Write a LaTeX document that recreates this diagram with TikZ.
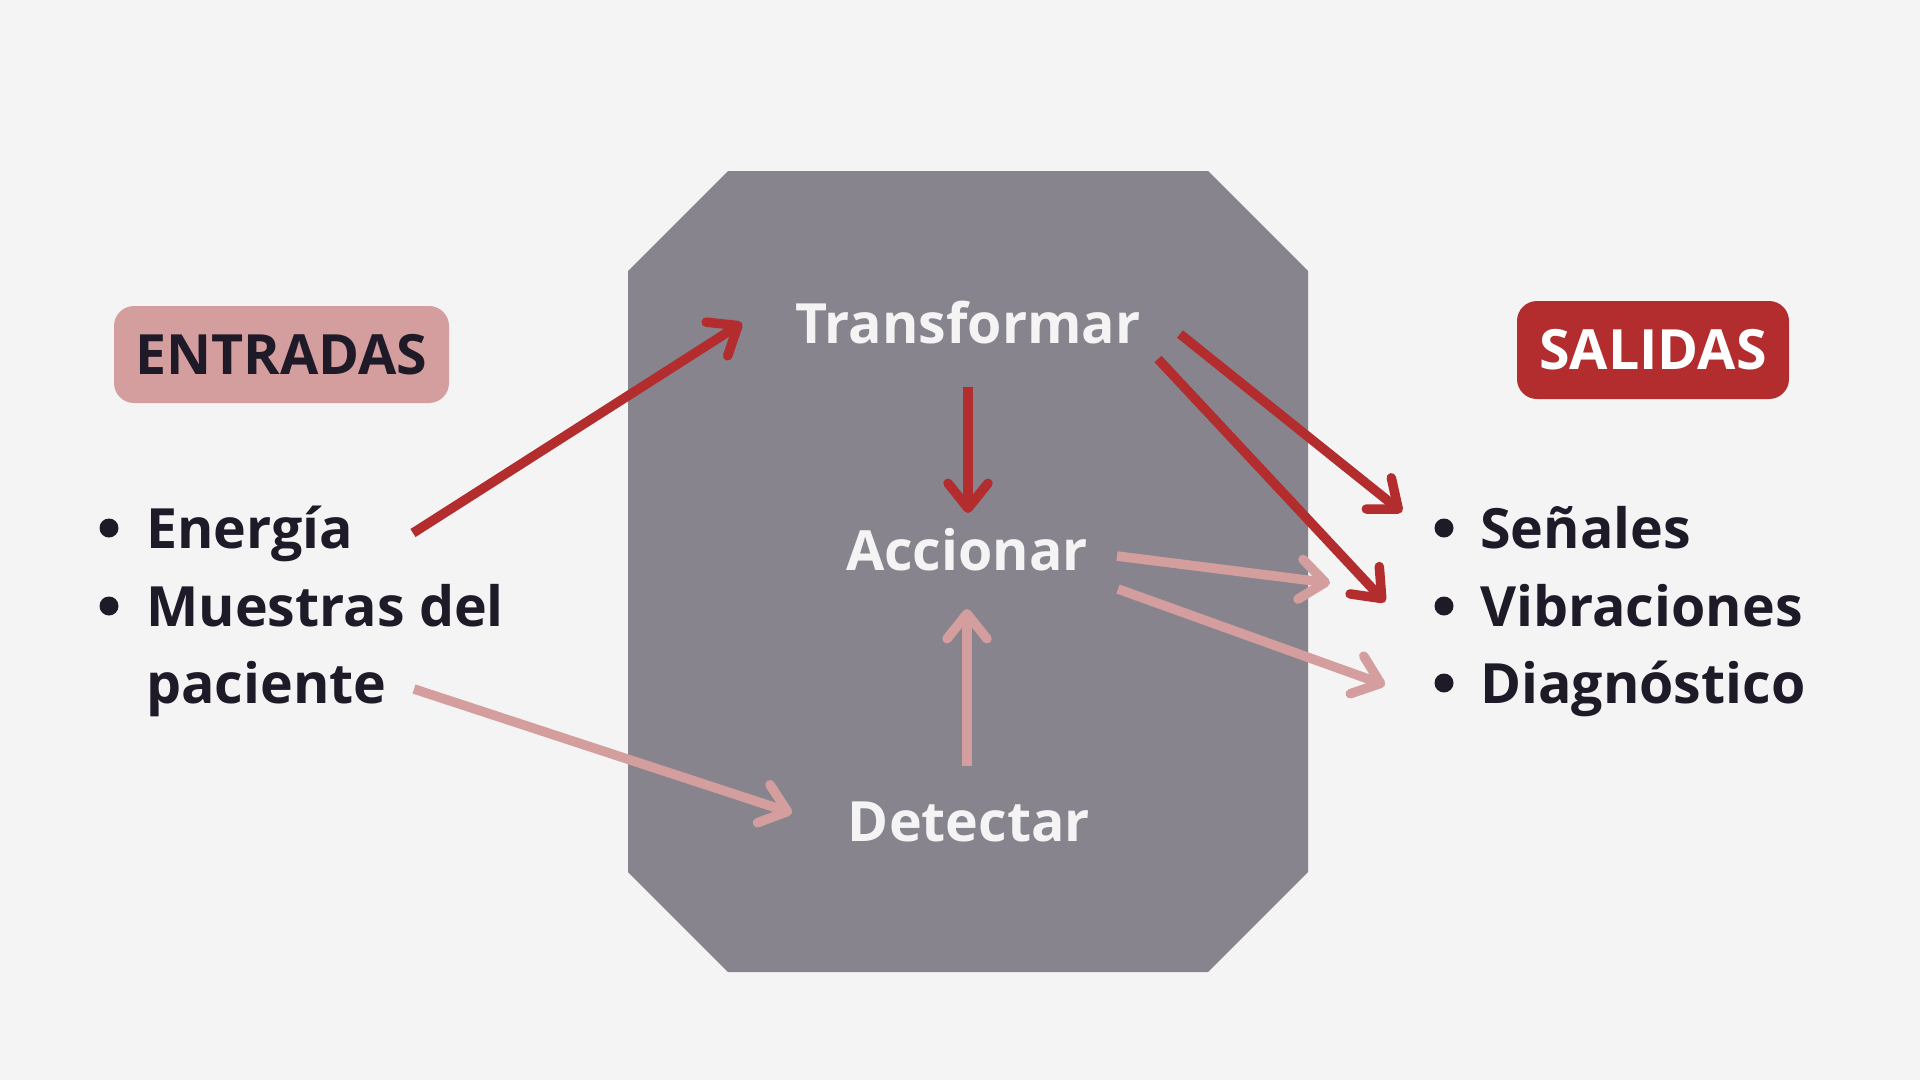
\documentclass[tikz,border=0pt]{standalone}
\usepackage{fontspec}
\setmainfont{Open Sans}
\usetikzlibrary{arrows.meta,calc}
\definecolor{bg}{HTML}{F4F4F4}
\definecolor{octa}{HTML}{88848E}
\definecolor{redc}{HTML}{B32D2F}
\definecolor{pinkc}{HTML}{D49E9E}
\definecolor{ink}{HTML}{1E1A28}
\definecolor{light}{HTML}{F4F4F4}
\begin{document}
\begin{tikzpicture}[x=1pt,y=-1pt,
  big/.style={font=\fontsize{55.5}{77.5}\selectfont\bfseries, inner sep=0pt},
  listtext/.style={big, text=ink, anchor=base west},
  stagetext/.style={big, text=light, anchor=base},
  tagbox/.style={big, rounded corners=20pt, inner sep=0pt},
  dot/.style={circle, fill=ink, inner sep=0pt, minimum size=19pt},
  conn/.style={line width=9.5pt, -{Straight Barb[length=25pt,width=40pt,round]}},
  redconn/.style={conn, draw=redc},
  pinkconn/.style={conn, draw=pinkc}]
\fill[bg] (0,0) rectangle (1920,1080);
\useasboundingbox (0,0) rectangle (1920,1080);
\fill[octa] (728,171) -- (1208,171) -- (1308,271) -- (1308,872) -- (1208,972)
  -- (728,972) -- (628,872) -- (628,271) -- cycle;

% tags
\node[tagbox, fill=pinkc, text=ink, minimum width=335pt, minimum height=97pt] (entradas) at (281.5,354.5) {ENTRADAS};
\node[tagbox, fill=redc, text=white, minimum width=272pt, minimum height=98pt] (salidas) at (1653,350) {SALIDAS};

% stages
\node[stagetext] (transformar) at (968,343) {Transformar};
\node[stagetext] (accionar) at (967,570) {Accionar};
\node[stagetext] (detectar) at (969,841) {Detectar};

% inputs
\node[dot] (b1) at (109,528) {};
\node[dot] (b2) at (109,606) {};
\node[listtext] (energia) at (146,548) {Energía};
\node[listtext] (muestras) at (146,626) {Muestras del};
\node[listtext] (paciente) at (146,703) {paciente};

% outputs
\node[dot] (c1) at (1444,528) {};
\node[dot] (c2) at (1444,606) {};
\node[dot] (c3) at (1444,683) {};
\node[listtext] (senales) at (1480,548) {Señales};
\node[listtext] (vibraciones) at (1480,626) {Vibraciones};
\node[listtext] (diagnostico) at (1480,703) {Diagnóstico};

% connectors
\draw[redconn] ($(energia.base west)+(267,-15)$) -- ($(transformar.base)+(-226,-20)$);
\draw[pinkconn] ($(paciente.base west)+(268,-14)$) -- ($(detectar.base)+(-177,-28)$);
\draw[redconn] ($(transformar.base)+(0,44)$) -- ($(accionar.base)+(1,-57)$);
\draw[pinkconn] ($(detectar.base)+(-2,-75)$) -- ($(accionar.base)+(0,39)$);
\draw[redconn] ($(transformar.base)+(212,-9)$) -- ($(senales.base west)+(-78,-36)$);
\draw[redconn] ($(transformar.base)+(190,16)$) -- ($(vibraciones.base west)+(-95,-24)$);
\draw[pinkconn] ($(accionar.base)+(150,-14)$) -- ($(vibraciones.base west)+(-150,-43)$);
\draw[pinkconn] ($(accionar.base)+(151,19)$) -- ($(diagnostico.base west)+(-95,-18)$);
\end{tikzpicture}
\end{document}
